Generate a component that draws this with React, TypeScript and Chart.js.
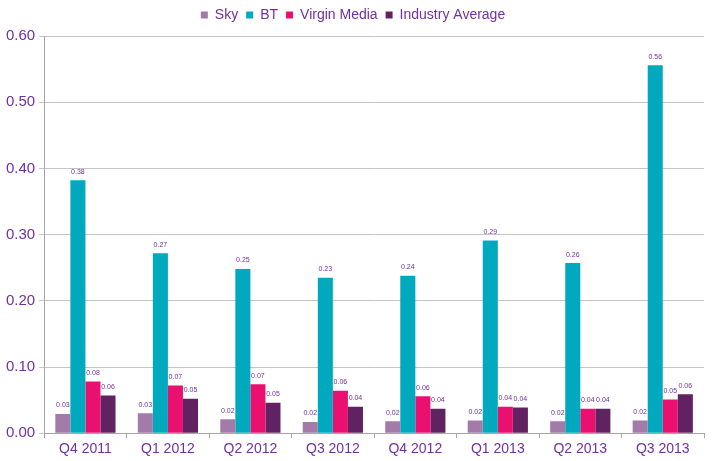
import React, { useEffect, useRef } from 'react';
import Chart from 'chart.js/auto';

const quarters = ['Q4 2011', 'Q1 2012', 'Q2 2012', 'Q3 2012', 'Q4 2012', 'Q1 2013', 'Q2 2013', 'Q3 2013'];
const sky = [0.029, 0.030, 0.021, 0.017, 0.018, 0.019, 0.018, 0.019];
const bt = [0.382, 0.272, 0.248, 0.235, 0.238, 0.291, 0.257, 0.556];
const virginMedia = [0.078, 0.072, 0.074, 0.064, 0.056, 0.040, 0.037, 0.051];
const industryAverage = [0.057, 0.052, 0.046, 0.040, 0.037, 0.039, 0.037, 0.059];

const purple = '#7030a0';
const font = '"Liberation Sans", Arial, sans-serif';

const barLabels = {
    id: 'barLabels',
    afterDatasetsDraw(chart: Chart) {
        const ctx = chart.ctx;
        ctx.save();
        ctx.font = `7px ${font}`;
        ctx.fillStyle = purple;
        ctx.textAlign = 'center';
        ctx.textBaseline = 'bottom';
        chart.data.datasets.forEach((ds, i) => {
            const meta = chart.getDatasetMeta(i);
            meta.data.forEach((bar: any, j) => {
                const v = ds.data[j] as number;
                ctx.fillText(v.toFixed(2), bar.x, bar.y - 5);
            });
        });
        ctx.restore();
    },
};

// a bit more room under the legend
const legendGap = {
    id: 'legendGap',
    beforeInit(chart: any) {
        const fit = chart.legend.fit;
        chart.legend.fit = function () {
            fit.call(this);
            this.height += 4;
        };
    },
};

const App: React.FC = () => {
    const chartRef = useRef<HTMLCanvasElement>(null);

    useEffect(() => {
        if (!chartRef.current) return;
        const chart = new Chart(chartRef.current, {
            type: 'bar',
            data: {
                labels: quarters,
                datasets: [
                    { label: 'Sky', data: sky, backgroundColor: '#a27ba9' },
                    { label: 'BT', data: bt, backgroundColor: '#00a9bd' },
                    { label: 'Virgin Media', data: virginMedia, backgroundColor: '#e9106f' },
                    { label: 'Industry Average', data: industryAverage, backgroundColor: '#612262' },
                ],
            },
            options: {
                responsive: false,
                animation: false,
                datasets: {
                    bar: { categoryPercentage: 0.73, barPercentage: 1.0 },
                },
                layout: { padding: { left: 2, right: 8, top: 0, bottom: 0 } },
                plugins: {
                    legend: {
                        position: 'top',
                        labels: {
                            boxWidth: 7,
                            boxHeight: 7,
                            padding: 8,
                            color: purple,
                            font: { size: 14, family: font },
                        },
                    },
                    tooltip: { enabled: false },
                },
                scales: {
                    x: {
                        grid: { display: true, drawOnChartArea: false, color: '#a6a6a6', tickLength: 5, offset: true },
                        border: { color: '#a6a6a6' },
                        ticks: {
                            color: purple,
                            font: { size: 14, family: font },
                        },
                    },
                    y: {
                        min: 0,
                        max: 0.6,
                        grid: { color: '#c4c4c4', tickLength: 5 },
                        border: { color: '#a6a6a6' },
                        ticks: {
                            stepSize: 0.1,
                            color: purple,
                            padding: 4,
                            font: { size: 15, family: font },
                            callback: (v) => Number(v).toFixed(2),
                        },
                    },
                },
            },
            plugins: [barLabels, legendGap],
        });
        return () => chart.destroy();
    }, []);

    return (
        <div style={{ position: 'absolute', left: 0, top: 0, width: 712, height: 461, background: '#fff' }}>
            <canvas ref={chartRef} width={712} height={461} />
        </div>
    );
};

export default App;
